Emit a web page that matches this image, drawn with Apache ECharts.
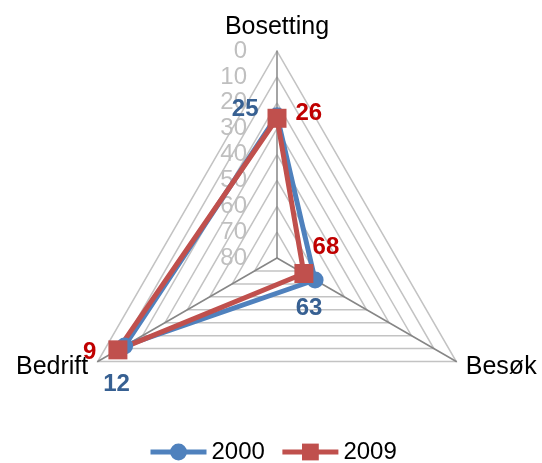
<!DOCTYPE html>
<html><head><meta charset="utf-8">
<script src="https://cdn.jsdelivr.net/npm/echarts@6/dist/echarts.min.js"></script>
<style>html,body{margin:0;padding:0;background:#fff}#c{width:542px;height:463px}</style>
</head><body><div id="c"></div>
<script>
// ---- data ----
const categories = ['Bosetting', 'Besøk', 'Bedrift'];
const seriesNames = ['2000', '2009'];
const values2000 = [25, 63, 12];
const values2009 = [26, 68, 9];
const axisMin = 0, axisMax = 80, axisStep = 10;

// ---- styles ----
const FONT = "'Liberation Sans', Arial, sans-serif";
const CX = 277, CY = 258, R = 207;
const FS = 24;
const labels2000 = [
  {position: 'left', offset: [-5, -6]},
  {position: 'bottom', offset: [-6, 3]},
  {position: 'bottom', offset: [-8, 13]}
];
const labels2009 = [
  {position: 'right', offset: [4, -5]},
  {position: 'top', offset: [22, 0]},
  {position: 'left', offset: [-7, 3]}
];

// radar goes counter-clockwise; the reference goes clockwise
const radarOrder = [categories[0]].concat(categories.slice(1).reverse());

function polarData(values, labelCfgs) {
  const n = categories.length;
  const pts = values.map((v, i) => ({value: [v, i * 360 / n], label: labelCfgs[i]}));
  pts.push({value: [values[0], 360], symbol: 'none', label: {show: false}});
  return pts;
}

function makeSeries(name, values, color, labelColor, symbol, size, labelCfgs) {
  return {
    name: name, type: 'line', coordinateSystem: 'polar', z: 5,
    data: polarData(values, labelCfgs),
    symbol: symbol, symbolSize: size, showAllSymbol: true,
    lineStyle: {color: color, width: 5},
    itemStyle: {color: color},
    label: {show: true, color: labelColor, fontSize: FS, fontWeight: 'bold', fontFamily: FONT,
            formatter: p => p.value[0]},
    emphasis: {disabled: true},
    animation: false
  };
}

const chart = echarts.init(document.getElementById('c'));
chart.setOption({
  animation: false,
  backgroundColor: '#fff',
  textStyle: {fontFamily: FONT},
  radar: {
    center: [CX, CY], radius: R, startAngle: 90, shape: 'polygon', splitNumber: 8,
    indicator: radarOrder.map(n => ({name: n, min: axisMin, max: axisMax})),
    axisName: {color: '#000', fontSize: 25, fontFamily: FONT},
    nameGap: 11,
    axisLine: {lineStyle: {color: '#868686', width: 1.5}},
    splitLine: {lineStyle: {color: '#C3C3C3', width: 1.5}},
    splitArea: {show: false},
    axisTick: {show: false},
    axisLabel: {show: false}
  },
  polar: {center: [CX, CY], radius: R},
  angleAxis: {type: 'value', min: 0, max: 360, startAngle: 90, clockwise: true, show: false},
  radiusAxis: {
    type: 'value', min: axisMin, max: axisMax, interval: axisStep, inverse: true,
    axisLine: {show: false}, axisTick: {show: false}, splitLine: {show: false},
    axisLabel: {color: '#BFBFBF', fontSize: FS, margin: 30, fontFamily: FONT}
  },
  legend: {
    data: seriesNames, left: 143, top: 435, itemWidth: 56, itemHeight: 21, itemGap: 15,
    lineStyle: {width: 5},
    textStyle: {color: '#000', fontSize: FS, fontFamily: FONT}
  },
  series: [
    makeSeries(seriesNames[0], values2000, '#4F81BD', '#376092', 'circle', 17, labels2000),
    makeSeries(seriesNames[1], values2009, '#C0504D', '#C00000', 'rect', 19, labels2009)
  ]
});
</script>
</body></html>
